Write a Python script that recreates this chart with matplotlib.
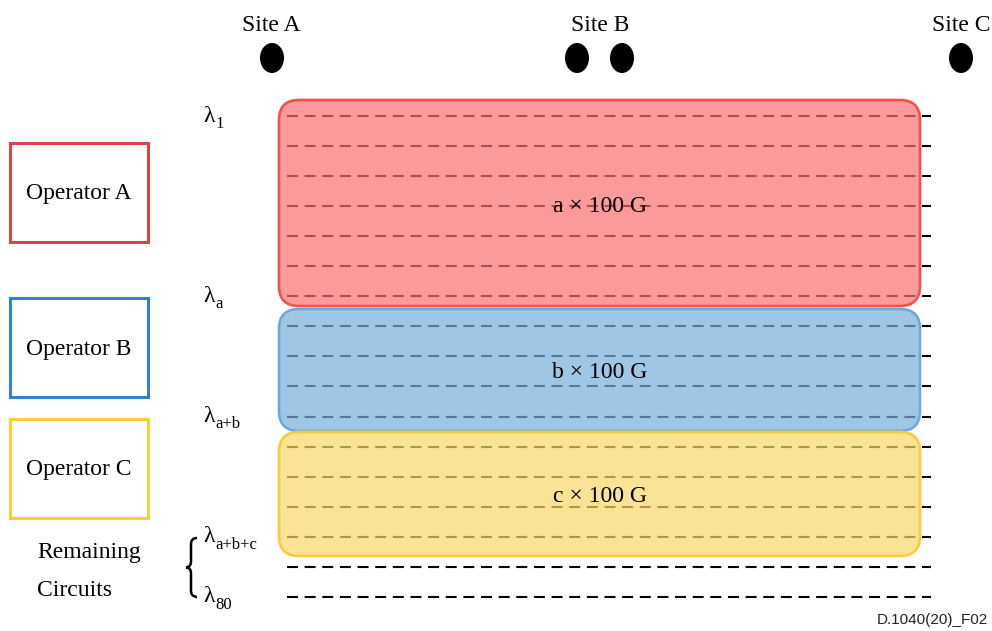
import matplotlib
matplotlib.use("Agg")
import matplotlib.pyplot as plt
from matplotlib.patches import FancyBboxPatch, Rectangle, Ellipse
from matplotlib.path import Path
from matplotlib.patches import PathPatch

plt.rcParams['lines.scale_dashes'] = False

# ---------------- data ----------------
sites = ["Site A", "Site B", "Site C"]
site_dots = [[272], [577, 622], [961]]          # dot x for each site
site_label_x = [271, 600, 961]

operators = ["Operator A", "Operator B", "Operator C"]
op_channels = [7, 4, 4]                          # wavelengths per operator
op_capacity = ["a × 100 G", "b × 100 G", "c × 100 G"]
remaining_channels = 2
total_rows = sum(op_channels) + remaining_channels

lambda_rows = [0, 6, 10, 14, 16]
lambda_subs = ["1", "a", "a+b", "a+b+c", "80"]

op_edge = ["#d94444", "#2b83d2", "#fdcc3a"]
box_face = [(248/255, 112/255, 112/255), (119/255, 176/255, 219/255), (248/255, 216/255, 105/255)]
box_edge = ["#f5504f", "#6ea8dc", "#fec93c"]

# ---------------- layout ----------------
W, H = 992, 631
row_y0, row_dy = 116.0, 30.05
line_x0, line_x1 = 287, 931
box_x0, box_x1 = 279, 920
serif = "Liberation Serif"

def row_y(i):
    return row_y0 + row_dy * i

fig = plt.figure(figsize=(W/100, H/100), dpi=100)
ax = fig.add_axes([0, 0, 1, 1])
ax.set_xlim(0, W)
ax.set_ylim(H, 0)
ax.axis("off")

# wavelength dashed lines
for i in range(total_rows):
    y = row_y(i)
    ax.plot([line_x0, line_x1], [y, y], color="black", lw=1.5,
            dashes=(7.9, 4.8), zorder=1, solid_capstyle="butt", dash_capstyle="butt")

# operator bands
box_tops = [100, 309, 432]
box_bots = [306, 431, 556]
for k in range(3):
    top, bot = box_tops[k], box_bots[k]
    p = FancyBboxPatch((box_x0, top), box_x1 - box_x0, bot - top,
                       boxstyle="round,pad=0,rounding_size=20",
                       facecolor=box_face[k] + (0.7,), edgecolor=box_edge[k],
                       lw=1.9, zorder=2)
    ax.add_patch(p)

text_base = [211.5, 377.5, 501.5]
for k in range(3):
    ax.text(600, text_base[k], op_capacity[k], fontsize=17, family=serif,
            ha="center", va="baseline", zorder=3)

# operator legend boxes
leg_tops = [143, 298, 419]
leg_h = 99
op_base = [199, 355, 475]
for k in range(3):
    ax.add_patch(Rectangle((10, leg_tops[k]), 138, leg_h, fill=False,
                           edgecolor=op_edge[k], lw=2.2, zorder=3))
    ax.text(79, op_base[k], operators[k], fontsize=17, family=serif,
            ha="center", va="baseline")

ax.text(37, 558, "Remaining", fontsize=17, family=serif, ha="left", va="baseline")
ax.text(37, 595.5, "Circuits", fontsize=17, family=serif, ha="left", va="baseline")

# lambda labels
for r, s in zip(lambda_rows, lambda_subs):
    y = row_y(r)
    ax.text(203, y + 5.5, "λ", fontsize=17, family=serif, ha="left", va="baseline")
    ax.text(215, y + 12, s, fontsize=12, family=serif, ha="left", va="baseline")

# brace
by0, by1 = 538, 597
bm = (by0 + by1) / 2
verts = [(197, by0), (191, by0), (191, by0 + 6),
         (191, bm - 6),
         (191, bm), (186, bm), (186, bm),
         (191, bm), (191, bm + 6),
         (191, by1 - 6),
         (191, by1), (197, by1), (197, by1)]
codes = [Path.MOVETO, Path.CURVE3, Path.CURVE3,
         Path.LINETO,
         Path.CURVE4, Path.CURVE4, Path.CURVE4,
         Path.CURVE3, Path.CURVE3,
         Path.LINETO,
         Path.CURVE4, Path.CURVE4, Path.CURVE4]
ax.add_patch(PathPatch(Path(verts, codes), fill=False, lw=1.8, edgecolor="black"))

# sites
for k in range(3):
    ax.text(site_label_x[k], 31, sites[k], fontsize=17, family=serif,
            ha="center", va="baseline")
    for x in site_dots[k]:
        ax.add_patch(Ellipse((x, 58), 24, 30, facecolor="black", edgecolor="none"))

ax.text(988, 624, "D.1040(20)_F02", fontsize=11, family="Liberation Sans",
        ha="right", va="baseline", color="#222222")

fig.savefig("out.png", dpi=100)
